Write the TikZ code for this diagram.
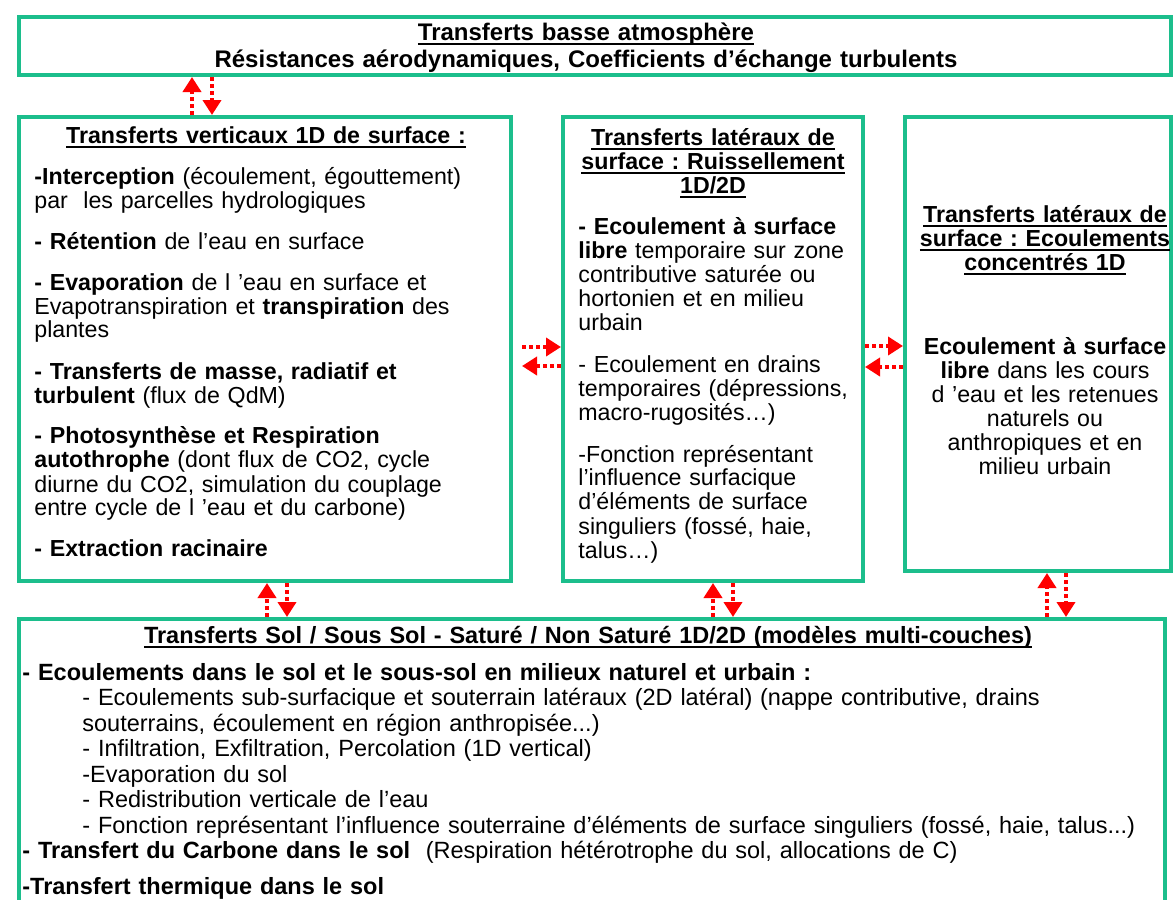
\documentclass[tikz,border=0pt]{standalone}
\usepackage{fontspec}
\setmainfont{Liberation Sans}
\usetikzlibrary{arrows.meta,calc}
\definecolor{vertbord}{RGB}{28,190,140}
\frenchspacing
\newcommand{\souligne}[1]{\leavevmode\setbox0\hbox{#1}\rlap{\rule[-2.4pt]{\wd0}{0.8pt}}\box0}
\newcommand{\echangevert}[4]{%
 \draw[fleche] (#1,0 |- #4.north) -- (#1,0 |- #3.south);%
 \draw[fleche] (#2,0 |- #3.south) -- (#2,0 |- #4.north);%
}

\begin{document}
\begin{tikzpicture}[x=0.5pt,y=-0.5pt,
  cadre/.style={draw=vertbord,line width=2pt,inner sep=0pt},
  fleche/.style={red,line width=1.9pt,dash pattern=on 1.9pt off 1.6pt,-{Triangle[width=9pt,length=7.5pt]}},
  texte/.style={inner sep=0pt,align=left,anchor=base west,font=\fontsize{11.6}{12}\selectfont},
  titre/.style={inner sep=0pt,align=center,anchor=base,font=\fontsize{11.6}{12}\selectfont\bfseries}]
 \useasboundingbox[fill=white] (0,0) rectangle (1175,900);
 \node[cadre,minimum width=576pt,minimum height=29pt] (T) at (595,46) {};
 \node[cadre,minimum width=246pt,minimum height=232pt] (L) at (265,349) {};
 \node[cadre,minimum width=150pt,minimum height=232pt] (M) at (713,349) {};
 \node[cadre,minimum width=133pt,minimum height=227pt] (R) at (1038,344) {};
 \node[cadre,minimum width=573pt,minimum height=170pt] (B) at (592,789) {};
 % haut
 \node[titre,text width=560pt,font=\fontsize{12}{13.5}\selectfont\bfseries] (tT) at (586,40)
  {\souligne{Transferts basse atmosphère}\\Résistances aérodynamiques, Coefficients d’échange turbulents};
 % gauche
 \node[titre,text width=240pt] (tL) at (266,143) {\souligne{Transferts verticaux 1D de surface :}};
 \node[texte,text width=235pt] (xL) at (34,184) {\textbf{-Interception} (écoulement, égouttement)\\
  par\ \ les parcelles hydrologiques\\[8.5pt]
  \textbf{- Rétention} de l’eau en surface\\[8.5pt]
  \textbf{- Evaporation} de l ’eau en surface et\\
  Evapotranspiration et \textbf{transpiration} des\\
  plantes\\[8.5pt]
  \textbf{- Transferts de masse, radiatif et}\\
  \textbf{turbulent} (flux de QdM)\\[8.5pt]
  \textbf{- Photosynthèse et Respiration}\\
  \textbf{autothrophe} (dont flux de CO2, cycle\\
  diurne du CO2, simulation du couplage\\
  entre cycle de l ’eau et du carbone)\\[8.5pt]
  \textbf{- Extraction racinaire}};
 % milieu
 \node[titre,text width=150pt] (tM) at (713,145)
  {\souligne{Transferts latéraux de}\\\souligne{surface : Ruissellement}\\\souligne{1D/2D}};
 \node[texte,text width=140pt] (xM) at (578,234) {\textbf{- Ecoulement à surface}\\
  \textbf{libre} temporaire sur zone\\
  contributive saturée ou\\
  hortonien et en milieu\\
  urbain\\[9pt]
  - Ecoulement en drains\\
  temporaires (dépressions,\\
  macro-rugosités…)\\[9pt]
  -Fonction représentant\\
  l’influence surfacique\\
  d’éléments de surface\\
  singuliers (fossé, haie,\\
  talus…)};
 % droite
 \node[titre,text width=134pt] (tR) at (1045,222)
  {\souligne{Transferts latéraux de}\\\souligne{surface : Ecoulements}\\\souligne{concentrés 1D}};
 \node[texte,align=center,anchor=base,text width=134pt] (xR) at (1045,354)
  {\textbf{Ecoulement à surface}\\\textbf{libre} dans les cours\\d ’eau et les retenues\\naturels ou\\anthropiques et en\\milieu urbain};
 % bas
 \node[titre,text width=560pt,font=\fontsize{11.75}{12.75}\selectfont\bfseries] (tB) at (588,643)
  {\souligne{Transferts Sol / Sous Sol - Saturé / Non Saturé 1D/2D (modèles multi-couches)}};
 \node[texte,text width=570pt,font=\fontsize{11.75}{12.75}\selectfont] (xB) at (22,680)
  {\textbf{- Ecoulements dans le sol et le sous-sol en milieux naturel et urbain :}\\
  \hspace*{30pt}- Ecoulements sub-surfacique et souterrain latéraux (2D latéral) (nappe contributive, drains\\
  \hspace*{30pt}souterrains, écoulement en région anthropisée...)\\
  \hspace*{30pt}- Infiltration, Exfiltration, Percolation (1D vertical)\\
  \hspace*{30pt}-Evaporation du sol\\
  \hspace*{30pt}- Redistribution verticale de l’eau\\
  \hspace*{30pt}- Fonction représentant l’influence souterraine d’éléments de surface singuliers (fossé, haie, talus...)\\
  \textbf{- Transfert du Carbone dans le sol}\ \ (Respiration hétérotrophe du sol, allocations de C)\\[5pt]
  \textbf{-Transfert thermique dans le sol}};
 % echanges
 \echangevert{192}{212}{T}{L}
 \echangevert{267}{287}{L}{B}
 \echangevert{713}{733}{M}{B}
 \echangevert{1047}{1066}{R}{B}
 \draw[fleche] ($(L.east |- 0,347)+(9,0)$) -- (M.west |- 0,347);
 \draw[fleche] (M.west |- 0,366) -- ($(L.east |- 0,366)+(9,0)$);
 \draw[fleche] (M.east |- 0,346) -- (R.west |- 0,346);
 \draw[fleche] (R.west |- 0,367) -- (M.east |- 0,367);
\end{tikzpicture}
\end{document}
